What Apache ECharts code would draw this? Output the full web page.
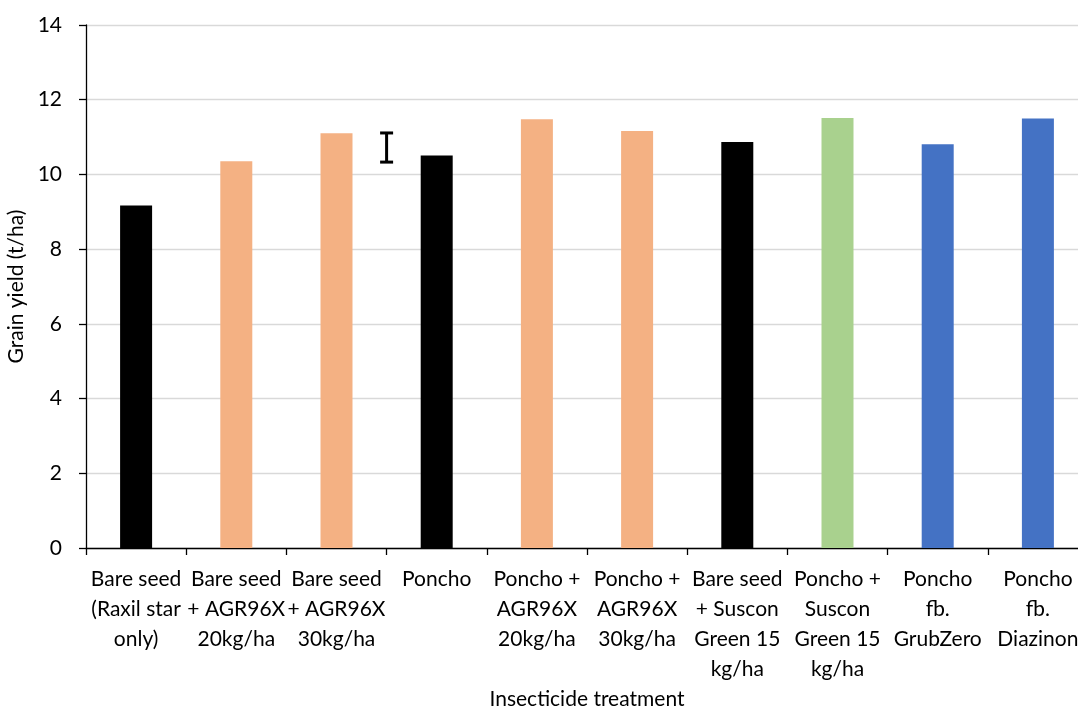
<!DOCTYPE html>
<html>
<head>
<meta charset="utf-8">
<script src="https://cdn.jsdelivr.net/npm/echarts@6/dist/echarts.min.js"></script>
<style>
html,body{margin:0;padding:0;background:#fff;}
#c{width:1078px;height:710px;}
</style>
</head>
<body>
<div id="c"></div>
<script>
const categories = [
  "Bare seed\n(Raxil star\nonly)",
  "Bare seed\n+ AGR96X\n20kg/ha",
  "Bare seed\n+ AGR96X\n30kg/ha",
  "Poncho",
  "Poncho +\nAGR96X\n20kg/ha",
  "Poncho +\nAGR96X\n30kg/ha",
  "Bare seed\n+ Suscon\nGreen 15\nkg/ha",
  "Poncho +\nSuscon\nGreen 15\nkg/ha",
  "Poncho\nfb.\nGrubZero",
  "Poncho\nfb.\nDiazinon"
];
const yieldValues = [9.17, 10.35, 11.10, 10.51, 11.48, 11.16, 10.87, 11.51, 10.81, 11.50];
const barColors = ["#000000", "#F4B183", "#F4B183", "#000000", "#F4B183", "#F4B183", "#000000", "#A9D18E", "#4472C4", "#4472C4"];
// error bar (LSD) placed at the boundary after category index 2
const errorBar = [[2, 10.33, 11.11]];
const yTicks = [0, 2, 4, 6, 8, 10, 12, 14];

const FONT = "Lato";
const FS = 21;
const chart = echarts.init(document.getElementById('c'), null, {renderer: 'canvas'});
chart.setOption({
  animation: false,
  backgroundColor: '#ffffff',
  grid: {left: 86, top: 25, width: 1002, bottom: 162, containLabel: false, outerBoundsMode: 'none'},
  xAxis: {
    type: 'category',
    data: categories,
    name: 'Insecticide treatment',
    nameLocation: 'middle',
    nameGap: 140,
    nameTextStyle: {fontFamily: FONT, fontSize: FS, color: '#000'},
    axisLine: {lineStyle: {color: '#000', width: 1.3}},
    axisTick: {show: true, alignWithLabel: false, length: 7, lineStyle: {color: '#000', width: 1.3}},
    axisLabel: {interval: 0, fontFamily: FONT, fontSize: FS, color: '#000', lineHeight: 30, margin: 16, align: 'center', hideOverlap: false},
    splitLine: {show: false}
  },
  yAxis: {
    type: 'value',
    min: yTicks[0],
    max: yTicks[yTicks.length - 1],
    interval: 2,
    name: 'Grain yield (t/ha)',
    nameLocation: 'middle',
    nameGap: 54,
    nameRotate: 90,
    nameTextStyle: {fontFamily: FONT, fontSize: FS, color: '#000'},
    axisLine: {show: true, lineStyle: {color: '#000', width: 1.3}},
    axisTick: {show: true, inside: false, length: 7, lineStyle: {color: '#000', width: 1.3}},
    axisLabel: {fontFamily: FONT, fontSize: FS, color: '#000', margin: 24},
    splitLine: {show: true, lineStyle: {color: '#d9d9d9', width: 1.3}}
  },
  series: [
    {
      type: 'bar',
      barWidth: 32,
      data: yieldValues.map((v, i) => ({value: v, itemStyle: {color: barColors[i]}})),
      z: 2
    },
    {
      type: 'custom',
      data: errorBar,
      z: 3,
      renderItem: function (params, api) {
        const idx = api.value(0);
        const lo = api.coord([idx, api.value(1)]);
        const hi = api.coord([idx, api.value(2)]);
        const half = api.size([1, 0])[0] / 2;
        const x = lo[0] + half;
        const cap = 6.5;
        const style = {stroke: '#000', lineWidth: 3};
        return {
          type: 'group',
          children: [
            {type: 'line', shape: {x1: x, y1: lo[1], x2: x, y2: hi[1]}, style: style},
            {type: 'line', shape: {x1: x - cap, y1: lo[1], x2: x + cap, y2: lo[1]}, style: style},
            {type: 'line', shape: {x1: x - cap, y1: hi[1], x2: x + cap, y2: hi[1]}, style: style}
          ]
        };
      }
    }
  ]
});
</script>
</body>
</html>
